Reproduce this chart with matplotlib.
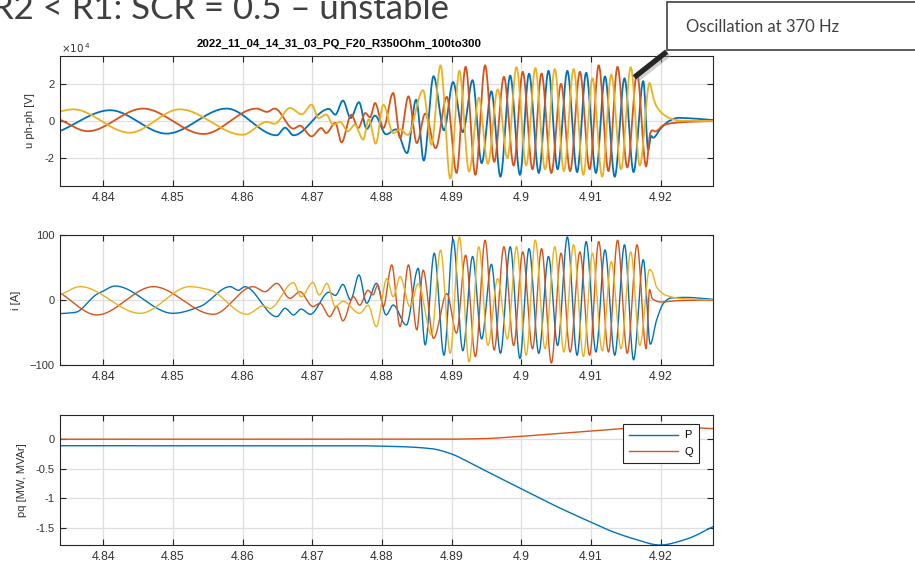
import numpy as np
import matplotlib
matplotlib.use('Agg')
import matplotlib.pyplot as plt
from matplotlib.patches import Rectangle
from matplotlib.lines import Line2D

# turning points of the recorded waveforms (time in s)
# phase voltages u ph-ph [V]
ua_t = [4.8338, 4.8410, 4.8491, 4.8577, 4.8649, 4.8661, 4.8673, 4.8724, 4.8733, 4.8744,
        4.8755, 4.8767, 4.8778, 4.8790, 4.8806, 4.8820, 4.8836, 4.8849, 4.8860, 4.8874,
        4.8889, 4.8902, 4.8916, 4.8930, 4.8943, 4.8957, 4.8970, 4.8984, 4.8998, 4.9011,
        4.9025, 4.9039, 4.9052, 4.9066, 4.9080, 4.9093, 4.9107, 4.9120, 4.9134, 4.9148,
        4.9161, 4.9175,
        4.9182, 4.9186, 4.9189, 4.9200, 4.9212, 4.9225, 4.9240, 4.9275]
ua = [-5400, 5800, -6800, 6700, -7700, -3600, -7700, 6500, 3400, 11000,
      1600, 10100, -4300, 2900, -7200, -4500, -17300, 11500, -21300, 24100,
      -5000, 21000, -6000, 22000, -22700, 16000, -30000, 24500, -29000, 25500,
      -28000, 27000, -26000, 27000, -27500, 26000, -28000, 24000, -30000, 23000,
      -27500, 21500,
      -15500, -8000, -9000, -4000, 0, 1700, 1500, 500]

ub_t = [4.8338, 4.8378, 4.8457, 4.8544, 4.8620, 4.8635, 4.8646, 4.8673, 4.8682, 4.8699,
        4.8713, 4.8720, 4.8733, 4.8742, 4.8756, 4.8766, 4.8776, 4.8783, 4.8790, 4.8802,
        4.8816, 4.8826, 4.8838, 4.8850, 4.8862, 4.8877,
        4.8893, 4.8907, 4.8920, 4.8934, 4.8948, 4.8961, 4.8975, 4.8989, 4.9002, 4.9016,
        4.9029, 4.9043, 4.9057, 4.9070, 4.9084, 4.9098, 4.9111, 4.9125, 4.9138, 4.9152,
        4.9166, 4.9179,
        4.9185, 4.9188, 4.9192, 4.9205, 4.9228, 4.9275]
ub = [700, -5500, 6700, -7000, 6700, 4900, 6700, -4100, -2500, -8300,
      -3800, -6500, -1000, -11500, 3400, -3800, 4300, 2000, 9700, -3800,
      15100, -9200, 13300, -11900, 4000, -14600,
      13000, -28000, 29200, -29000, 30000, -22000, 23800, -24000, 26500, -26000,
      25600, -28000, 20000, -27000, 26500, -26000, 30000, -27000, 29200, -25000,
      25600, -24500,
      -6500, -5000, -5600, -2000, -700, 0]

uc_t = [4.8338, 4.8357, 4.8438, 4.8510, 4.8600, 4.8635, 4.8646, 4.8668, 4.8685, 4.8699,
        4.8709, 4.8720, 4.8730, 4.8740, 4.8751, 4.8761, 4.8773, 4.8781, 4.8791, 4.8802,
        4.8816, 4.8826, 4.8837, 4.8859, 4.8871,
        4.8884, 4.8898, 4.8911, 4.8925, 4.8939, 4.8952, 4.8966, 4.8980, 4.8993, 4.9007,
        4.9020, 4.9034, 4.9048, 4.9061, 4.9075, 4.9089, 4.9102, 4.9116, 4.9129, 4.9143,
        4.9157, 4.9170, 4.9184,
        4.9189, 4.9194, 4.9204, 4.9216, 4.9228, 4.9275]
uc = [5200, 6300, -6300, 6300, -7400, -500, -1500, 7000, 3600, 8800,
      1600, 3500, -2000, -500, -5500, -2000, -10000, 1000, -12200, 8800,
      -6500, -4500, -7500, 16600, -12800,
      30000, -31000, 27000, -27200, 12500, -23000, 17000, -20000, 29000, -24000,
      28500, -26000, 28000, -27000, 28000, -29000, 23000, -30000, 25000, -26000,
      29000, -24000, 20500,
      13000, 7900, 3500, 1100, 200, 0]

# phase currents i [A]
ia_t = [4.8338, 4.8360, 4.8391, 4.8397, 4.8417, 4.8500, 4.8539, 4.8582, 4.8594, 4.8603,
        4.8649, 4.8661, 4.8673, 4.8684, 4.8697, 4.8724, 4.8733, 4.8744, 4.8755, 4.8767,
        4.8778, 4.8792, 4.8806, 4.8816, 4.8835, 4.8852, 4.8862, 4.8875,
        4.8889, 4.8902, 4.8916, 4.8930, 4.8943, 4.8957, 4.8970, 4.8984, 4.8998, 4.9011,
        4.9025, 4.9039, 4.9052, 4.9066, 4.9080, 4.9093, 4.9107, 4.9120, 4.9134, 4.9148,
        4.9161, 4.9175,
        4.9185, 4.9194, 4.9204, 4.9214, 4.9235, 4.9275]
ia = [-21, -19, 9, 12, 21.5, -20.5, -10, 20.5, 15, 20.5,
      -25.6, -12.8, -23, -14, -22, 12, 7, 24, 0, 38.5,
      -5, 25.6, -23, -7.7, -38.5, 48.7, -69, 72,
      -85, 93, -78, 67, -60, 55, -82, 82, -90, 79,
      -82, 67, -70, 97, -85, 90, -80, 77, -85, 85,
      -92, 62,
      -68, -31, -5, 3, 4, 1]

ib_t = [4.8338, 4.8391, 4.8472, 4.8558, 4.8615, 4.8632, 4.8649, 4.8668, 4.8682, 4.8701,
        4.8711, 4.8725, 4.8735, 4.8744, 4.8759, 4.8768, 4.8780, 4.8787, 4.8794, 4.8802,
        4.8814, 4.8826, 4.8838, 4.8850, 4.8859, 4.8874,
        4.8893, 4.8907, 4.8920, 4.8934, 4.8948, 4.8961, 4.8975, 4.8989, 4.9002, 4.9016,
        4.9029, 4.9043, 4.9057, 4.9070, 4.9084, 4.9098, 4.9111, 4.9125, 4.9138, 4.9152,
        4.9166, 4.9179,
        4.9184, 4.9188, 4.9200, 4.9225, 4.9275]
ib = [11, -23, 20.5, -22, 20.5, 12.8, 25.6, 2.6, 12.8, -10,
      -5, -25.6, -10, -32, 5, -8, 15, 8, 23, -10,
      54, -41, 54, -46, 46, -59,
      10, -51, 69, -87, 92, -77, 82, -70, 74, -75,
      79, -97, 72, -80, 74, -85, 90, -80, 92, -82,
      85, -75,
      16, 2, -3, -1, 0]

ic_t = [4.8338, 4.8367, 4.8453, 4.8524, 4.8553, 4.8606, 4.8630, 4.8639, 4.8673, 4.8684,
        4.8701, 4.8710, 4.8721, 4.8733, 4.8744, 4.8768, 4.8780, 4.8792, 4.8807, 4.8816,
        4.8826, 4.8840, 4.8852, 4.8871,
        4.8884, 4.8898, 4.8911, 4.8925, 4.8939, 4.8952, 4.8966, 4.8980, 4.8993, 4.9007,
        4.9020, 4.9034, 4.9048, 4.9061, 4.9075, 4.9089, 4.9102, 4.9116, 4.9129, 4.9143,
        4.9157, 4.9170, 4.9184,
        4.9188, 4.9194, 4.9208, 4.9232, 4.9275]
ic = [7.7, 20.5, -20.5, 20.5, 15.4, -22, -9, -13, 26.7, 5,
      27, 7.7, 25.6, -10, -2, -20.5, -8, -41, 33, 5,
      36, -10, 25, -54,
      77, -82, 97, -95, 82, -70, 33, -60, 82, -85,
      92, -75, 82, -80, 85, -87, 72, -78, 59, -75,
      74, -70, 47,
      42, 20, 7, 2, 0]

# active / reactive power [MW, MVAr]
p_t = [4.8338, 4.8754, 4.8826, 4.8871, 4.8900, 4.8920, 4.8943, 4.9000, 4.9027, 4.9051,
       4.9101, 4.9130, 4.9160, 4.9199, 4.9237, 4.9275]
p = [-0.11, -0.11, -0.125, -0.16, -0.25, -0.36, -0.50, -0.84, -1.0, -1.14,
     -1.41, -1.56, -1.68, -1.79, -1.69, -1.48]
q_t = [4.8338, 4.8880, 4.8945, 4.9000, 4.9101, 4.9160, 4.9210, 4.9275]
q = [0, 0, 0.01, 0.05, 0.14, 0.19, 0.21, 0.18]

x_ticks = [4.84, 4.85, 4.86, 4.87, 4.88, 4.89, 4.90, 4.91, 4.92]
x_labels = ['4.84', '4.85', '4.86', '4.87', '4.88', '4.89', '4.9', '4.91', '4.92']
title = '2022_11_04_14_31_03_PQ_F20_R350Ohm_100to300'

C1, C2, C3 = '#0072BD', '#D95319', '#EDB120'
W, H = 915, 563


def through(tk, vk, n=3000):
    # monotone cubic curve through the turning points
    tk = np.asarray(tk, float)
    vk = np.asarray(vk, float)
    h = np.diff(tk)
    d = np.diff(vk) / h
    m = np.zeros_like(vk)
    for i in range(1, len(vk) - 1):
        if d[i - 1] * d[i] > 0:
            w1 = 2 * h[i] + h[i - 1]
            w2 = h[i] + 2 * h[i - 1]
            m[i] = (w1 + w2) / (w1 / d[i - 1] + w2 / d[i])
    m[0], m[-1] = d[0], d[-1]
    t = np.linspace(tk[0], tk[-1], n)
    k = np.clip(np.searchsorted(tk, t) - 1, 0, len(h) - 1)
    s = (t - tk[k]) / h[k]
    v = ((2 * s**3 - 3 * s**2 + 1) * vk[k] + (s**3 - 2 * s**2 + s) * h[k] * m[k]
         + (-2 * s**3 + 3 * s**2) * vk[k + 1] + (s**3 - s**2) * h[k] * m[k + 1])
    return t, v


def box(top, bottom):
    return [60 / W, 1 - bottom / H, (713 - 60) / W, (bottom - top) / H]


def style(ax):
    ax.set_xlim(4.8338, 4.9275)
    ax.set_xticks(x_ticks)
    ax.set_xticklabels(x_labels)
    ax.grid(True, color='#dedede', lw=0.9)
    ax.set_axisbelow(True)
    ax.tick_params(direction='in', top=True, right=True, length=4, width=0.8,
                   color='#262626', labelsize=8, labelcolor='#333333', pad=4)
    ax.tick_params(axis='x', labelsize=8.8)
    for sp in ax.spines.values():
        sp.set_color('#262626')
        sp.set_linewidth(0.8)


plt.rcParams['font.family'] = ['Liberation Sans', 'DejaVu Sans']
fig = plt.figure(figsize=(W / 100, H / 100), dpi=100)

ax1 = fig.add_axes(box(56, 186))
for tk, vk, c in [(ua_t, ua, C1), (ub_t, ub, C2), (uc_t, uc, C3)]:
    ax1.plot(*through(tk, vk), color=c, lw=1.3)
style(ax1)
ax1.set_ylim(-35000, 35000)
ax1.set_yticks([-20000, 0, 20000])
ax1.set_yticklabels(['-2', '0', '2'])
ax1.set_ylabel('u ph-ph [V]', fontsize=8, color='#333333')
ax1.yaxis.set_label_coords(-0.038, 0.5)
ax1.set_title(title, fontsize=8.2, fontweight='bold', x=0.428, pad=6.5)
fig.text(61 / W, 1 - 53 / H, r'$\times10^{\,4}$', fontsize=7.5, color='#333333')

ax2 = fig.add_axes(box(235, 365))
for tk, vk, c in [(ia_t, ia, C1), (ib_t, ib, C2), (ic_t, ic, C3)]:
    ax2.plot(*through(tk, vk), color=c, lw=1.0)
style(ax2)
ax2.set_ylim(-100, 100)
ax2.set_yticks([-100, 0, 100])
ax2.set_ylabel('i [A]', fontsize=8, color='#333333')
ax2.yaxis.set_label_coords(-0.060, 0.5)

ax3 = fig.add_axes(box(415, 545))
ax3.plot(*through(p_t, p), color=C1, lw=1.0, label='P')
ax3.plot(*through(q_t, q), color=C2, lw=1.0, label='Q')
style(ax3)
ax3.set_ylim(-1.79, 0.41)
ax3.set_yticks([-1.5, -1, -0.5, 0])
ax3.set_yticklabels(['-1.5', '-1', '-0.5', '0'])
ax3.set_ylabel('pq [MW, MVAr]', fontsize=8, color='#333333')
ax3.yaxis.set_label_coords(-0.050, 0.5)
leg = ax3.legend(loc='upper right', bbox_to_anchor=(0.979, 0.928), borderaxespad=0,
                 fontsize=8, fancybox=False, framealpha=1, edgecolor='#262626',
                 handlelength=4.4, handletextpad=0.6, labelspacing=0.6, borderpad=0.55)
leg.get_frame().set_linewidth(0.8)

# slide heading, partly above the top edge
fig.text(-8 / W, 1 - 19 / H, 'R2 < R1: SCR = 0.5 \u2013 unstable', fontsize=25,
         family='Lato', color='#404040', va='baseline')

# callout
fig.add_artist(Line2D([668.5 / W, 636 / W], [1 - 53.7 / H, 1 - 79.3 / H],
                      transform=fig.transFigure, lw=5, color='#9a9a9a', alpha=0.45,
                      solid_capstyle='butt'))
fig.add_artist(Line2D([666.7 / W, 634.3 / W], [1 - 51.7 / H, 1 - 77.3 / H],
                      transform=fig.transFigure, lw=3.8, color='#262626',
                      solid_capstyle='butt'))
fig.add_artist(Rectangle((666.7 / W, 1 - 50 / H), (940 - 666.7) / W, 48.3 / H,
                         transform=fig.transFigure, facecolor='white',
                         edgecolor='#404040', lw=1.2))
fig.text(686 / W, 1 - 27 / H, 'Oscillation at 370 Hz', fontsize=12, family='Lato',
         color='#404040', va='center', ha='left')

fig.savefig('out.png', dpi=100)
